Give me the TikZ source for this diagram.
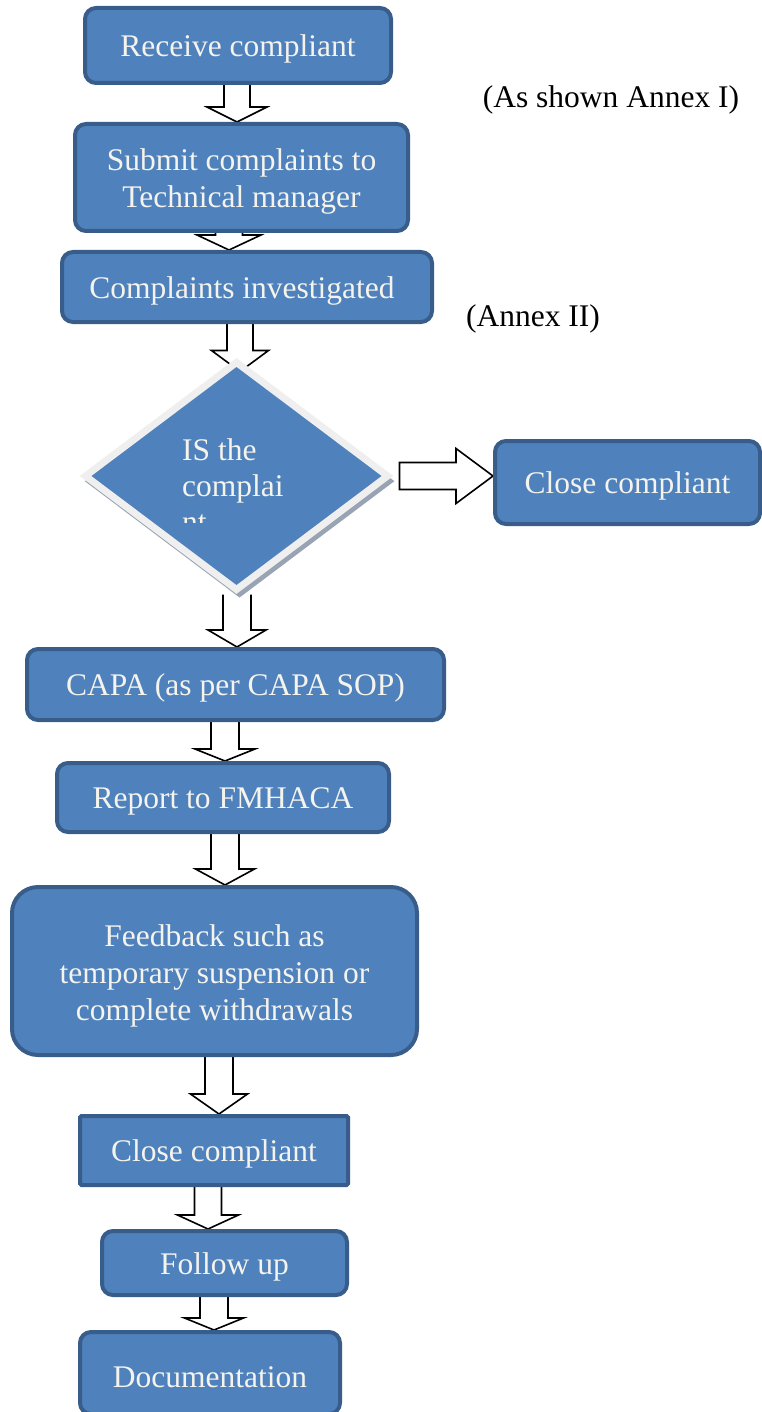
\documentclass[tikz,border=0pt]{standalone}
\usepackage{fontspec}
\setmainfont{Liberation Serif}
\usetikzlibrary{shapes.geometric,shadows,calc,backgrounds}
\definecolor{boxfill}{HTML}{4F81BD}
\definecolor{boxborder}{HTML}{385D8A}
\definecolor{boxtext}{HTML}{F4F3EC}
\definecolor{dialine}{HTML}{EFEFEF}
\definecolor{diashadow}{HTML}{8D99AB}
\newcommand\fs{\fontsize{31.5}{37}\selectfont}
\tikzset{
  box/.style={draw=boxborder, fill=boxfill, line width=4pt, rounded corners=11pt,
    text=boxtext, font=\fs, inner sep=0pt, align=center},
  single/.style={text height=29.5pt, text depth=6.8pt},
  twoline/.style={text height=66.5pt},
  threeline/.style={text height=105.5pt},
  blockarr/.style={draw=black, fill=white, line width=1.6pt, line join=miter},
  note/.style={font=\fs, text=black, inner sep=0pt},
  diatext/.style={text=boxtext, font=\fs, anchor=base west, inner sep=0pt}
}
% x, from, to, shaft half width, head half width, head length
\newcommand\bdown[6]{%
  \draw[blockarr] let \p1=(#2), \p2=(#3) in
    (#1pt-#4pt,\y1) -- (#1pt-#4pt,\y2+#6pt) -- (#1pt-#5pt,\y2+#6pt) -- (#1pt,\y2)
    -- (#1pt+#5pt,\y2+#6pt) -- (#1pt+#4pt,\y2+#6pt) -- (#1pt+#4pt,\y1);}
\begin{document}
\begin{tikzpicture}[x=1pt,y=-1pt]
\useasboundingbox (0,0) rectangle (762,1412);

\node[box, single, minimum width=306pt, minimum height=75pt] (recv) at (238,45.5) {Receive compliant};
\node[box, twoline, minimum width=333pt, minimum height=107pt] (submit) at (241.5,177.5) {Submit complaints to\\Technical manager};
\node[box, single, minimum width=370pt, minimum height=70pt] (inv) at (247,287) {Complaints investigated\hspace*{10pt}};
\node[diamond, draw=dialine, line width=7pt, fill=boxfill, inner sep=0pt,
  minimum width=305pt, minimum height=230pt,
  drop shadow={shadow scale=1.025, shadow xshift=3pt, shadow yshift=-5pt, fill=diashadow, opacity=.9}] (dia) at (236.5,476) {};
\node[diatext] (dl1) at (182,460) {IS the};
\node[diatext] (dl2) at (182,496) {complai};
\begin{scope}
  \clip (150,500) rectangle (330,522);
  \node[diatext] (dl3) at (182,532) {nt};
\end{scope}
\node[box, single, minimum width=265pt, minimum height=83pt] (close1) at (627.5,482.5) {Close compliant};
\node[box, single, minimum width=417pt, minimum height=71pt] (capa) at (235.5,684.5) {CAPA (as per CAPA SOP)};
\node[box, single, minimum width=332pt, minimum height=69pt] (report) at (223,797.5) {Report to FMHACA};
\node[box, threeline, rounded corners=26pt, minimum width=405pt, minimum height=168pt] (feed) at (214.5,971) {Feedback such as\\temporary suspension or\\complete withdrawals};
\node[box, single, rounded corners=1.5pt, minimum width=268pt, minimum height=69pt] (close2) at (214,1150.5) {Close compliant};
\node[box, single, minimum width=245pt, minimum height=64pt] (follow) at (224.5,1263) {Follow up};
\node[box, single, text height=35.5pt, minimum width=260pt, minimum height=82pt] (doc) at (210,1373) {Documentation};

\node[note] (ann1) at (611,100) {(As shown Annex I)};
\node[note] (ann2) at (533,319) {(Annex II)};

\coordinate (diatop) at ($(dia.north)+(0,14)$);
\coordinate (diaright) at ($(dia.east)+(7,0)$);

\begin{scope}[on background layer]
  \bdown{237}{recv.south}{submit.north}{13}{30}{15}
  \bdown{229}{submit.south}{inv.north}{13.5}{32}{15}
  \bdown{240}{inv.south}{diatop}{13}{28.5}{21}
  \bdown{237}{dia.south}{capa.north}{14}{29}{17}
  \bdown{225}{capa.south}{report.north}{14}{30}{12}
  \bdown{225}{report.south}{feed.north}{14}{29.5}{16}
  \bdown{219}{feed.south}{close2.north}{14}{28.5}{20}
  \bdown{208}{close2.south}{follow.north}{13.5}{30.5}{14}
  \bdown{214}{follow.south}{doc.north}{14}{29.5}{12}
  \draw[blockarr] let \p1=(diaright), \p2=(close1.west) in
    (\x1,\y1+13.5pt) -- (\x2-37pt,\y1+13.5pt) -- (\x2-37pt,\y1+27.5pt) -- (\x2,\y1)
    -- (\x2-37pt,\y1-27.5pt) -- (\x2-37pt,\y1-13.5pt) -- (\x1,\y1-13.5pt) -- cycle;
\end{scope}
\end{tikzpicture}
\end{document}
